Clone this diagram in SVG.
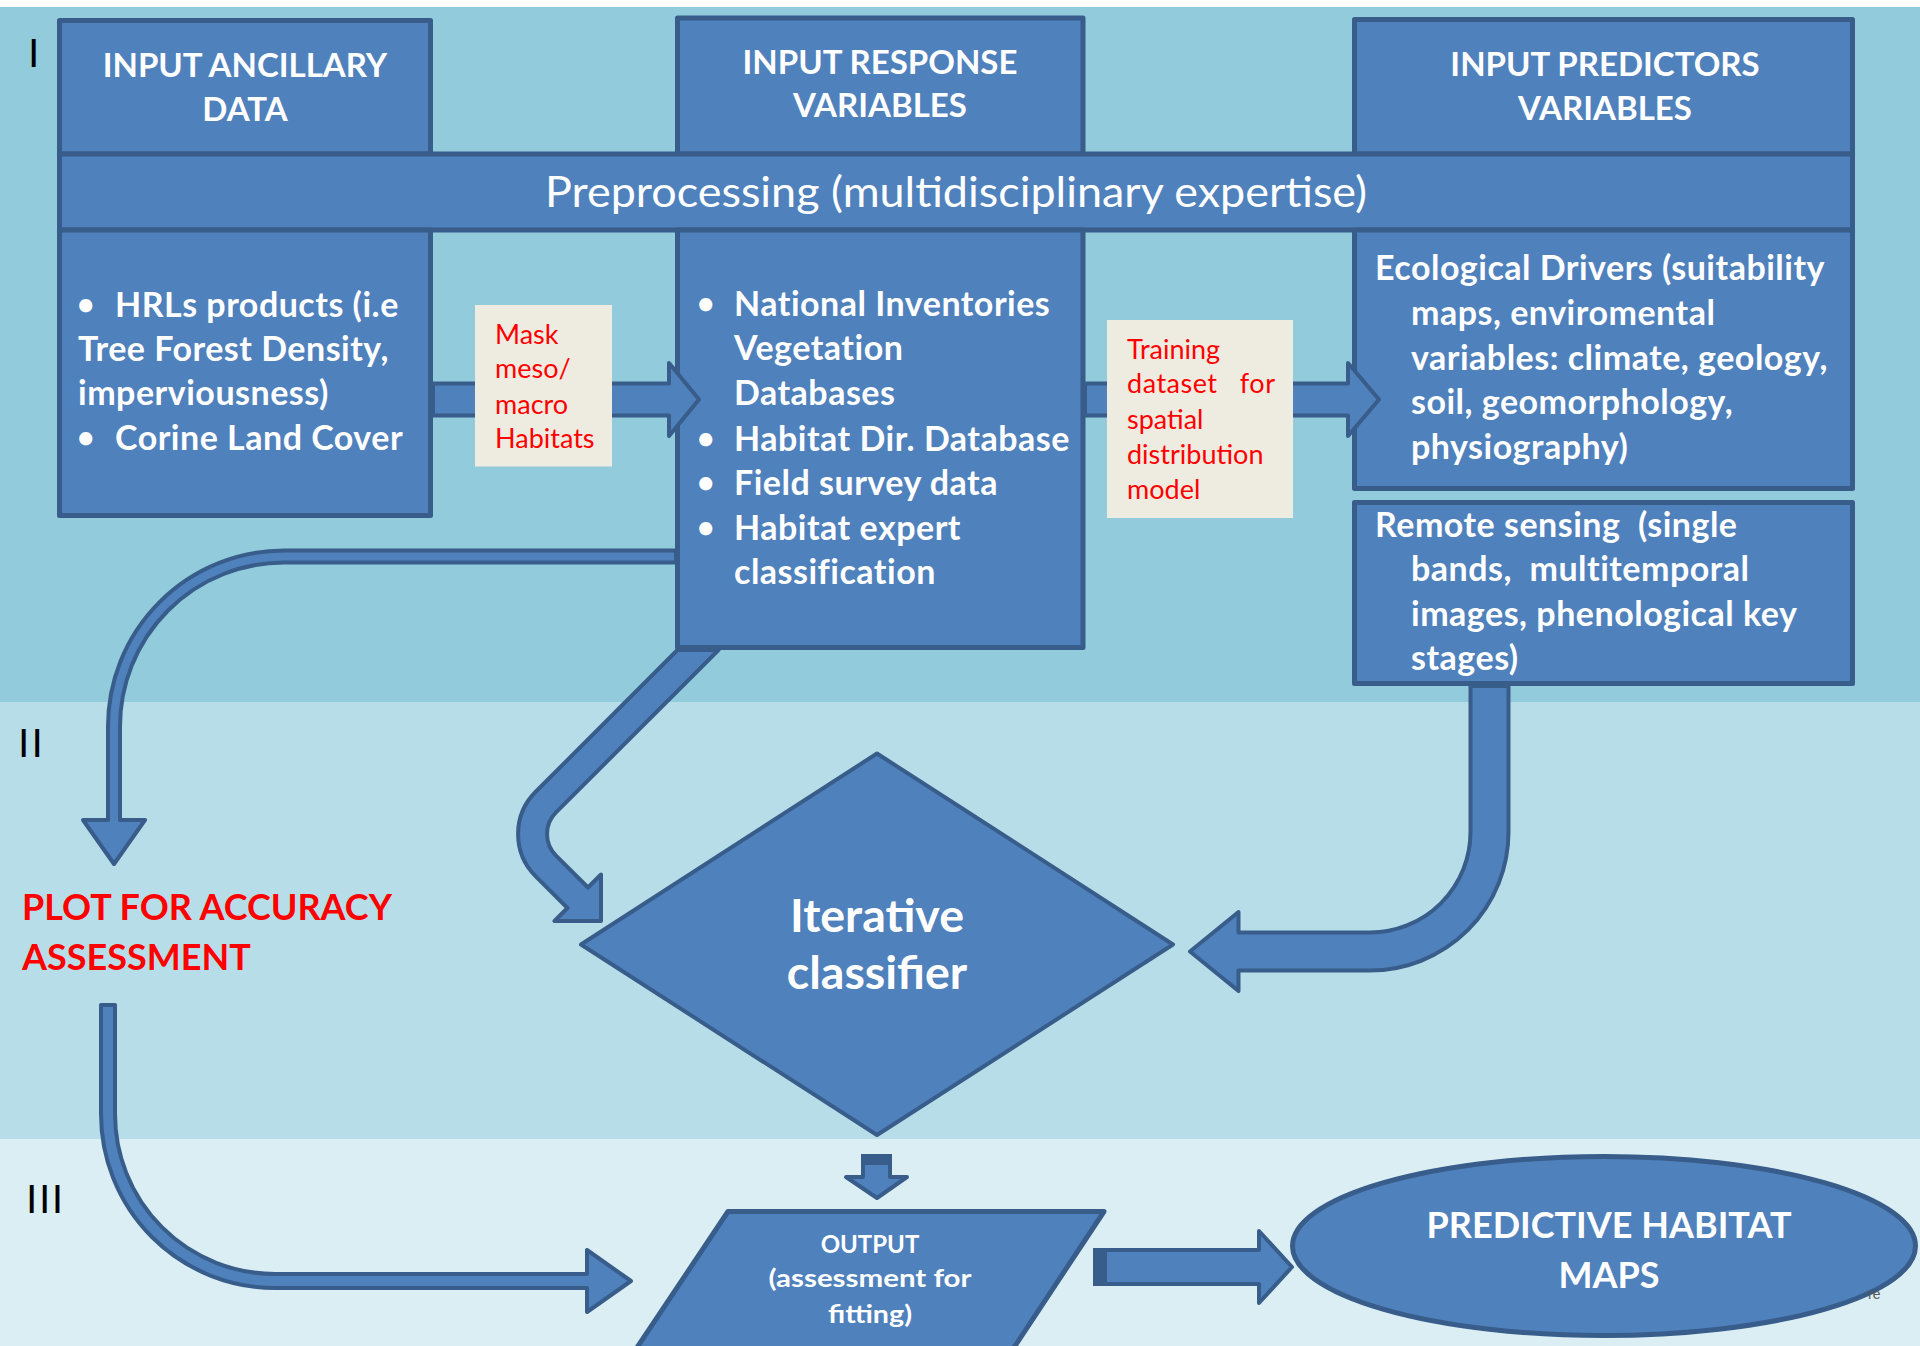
<svg xmlns="http://www.w3.org/2000/svg" width="1920" height="1346" viewBox="0 0 1920 1346">
<style>
.box{fill:#4F81BD;stroke:#385D8A;stroke-width:5;stroke-linejoin:round}
.arr{fill:#4F81BD;stroke:#385D8A;stroke-width:4;stroke-linejoin:round}
.dk{fill:#385D8A}
.lab{fill:#EEECE1}
.t{font-family:Lato,"Open Sans",sans-serif;fill:#FFFFFF;font-weight:700}
.hdr{font-size:33px;text-anchor:middle}
.body{font-size:34px;letter-spacing:0.5px;white-space:pre}
.bul{font-size:30px}
.pre{font-size:42px;font-weight:400;text-anchor:middle}
.red{font-family:Lato,"Open Sans",sans-serif;font-size:27px;fill:#FF0000;white-space:pre}
.plot{font-family:Lato,"Open Sans",sans-serif;font-size:36px;font-weight:700;fill:#FF0000}
.big{font-size:46.5px;text-anchor:middle}
.out{font-size:24px;text-anchor:middle}
.pred{font-size:36px;text-anchor:middle}
.rom{font-family:"Liberation Sans",Arial,sans-serif;font-size:41px;fill:#000000}
</style>
<g id="background">
<rect x="0" y="0" width="1920" height="1346" fill="#FFFFFF"/>
<rect x="0" y="7" width="1920" height="695" fill="#92CBDC"/>
<rect x="0" y="702" width="1920" height="437" fill="#B7DEE8"/>
<rect x="0" y="1139" width="1920" height="207" fill="#DAEEF3"/>
<text class="rom" x="28" y="67">I</text>
<text class="rom" x="18" y="757" letter-spacing="2">II</text>
<text class="rom" x="26" y="1213" letter-spacing="1.5">III</text>
</g>
<g id="nodes">
<g id="ancillary-header">
<rect class="box" x="59.5" y="20.5" width="371" height="133.5"/>
<text class="t hdr" x="245" y="77">INPUT ANCILLARY</text>
<text class="t hdr" x="245" y="120.5">DATA</text>
</g>
<g id="response-header">
<rect class="box" x="677.5" y="18" width="405.5" height="136"/>
<text class="t hdr" x="880" y="74">INPUT RESPONSE</text>
<text class="t hdr" x="880" y="117">VARIABLES</text>
</g>
<g id="predictors-header">
<rect class="box" x="1354.5" y="19.5" width="498" height="134.5"/>
<text class="t hdr" x="1605" y="76">INPUT PREDICTORS</text>
<text class="t hdr" x="1605" y="119.5">VARIABLES</text>
</g>
<g id="preprocessing">
<rect class="box" x="59.5" y="154" width="1793" height="76"/>
<text class="t pre" x="956" y="207" textLength="822" lengthAdjust="spacingAndGlyphs">Preprocessing (multidisciplinary expertise)</text>
</g>
<g id="ancillary-data">
<rect class="box" x="59.5" y="230" width="371" height="285.5"/>
<text class="t bul" x="77" y="315">•</text>
<text class="t body" x="115" y="317">HRLs products (i.e</text>
<text class="t body" x="78" y="361">Tree Forest Density,</text>
<text class="t body" x="78" y="405">imperviousness)</text>
<text class="t bul" x="77" y="448">•</text>
<text class="t body" x="115" y="450">Corine Land Cover</text>
</g>
<g id="response-data">
<rect class="box" x="677.5" y="230" width="405.5" height="417.5"/>
<text class="t bul" x="697" y="314">•</text>
<text class="t body" x="734" y="316">National Inventories</text>
<text class="t body" x="734" y="360">Vegetation</text>
<text class="t body" x="734" y="405">Databases</text>
<text class="t bul" x="697" y="449">•</text>
<text class="t body" x="734" y="451">Habitat Dir. Database</text>
<text class="t bul" x="697" y="493">•</text>
<text class="t body" x="734" y="495">Field survey data</text>
<text class="t bul" x="697" y="538">•</text>
<text class="t body" x="734" y="540">Habitat expert</text>
<text class="t body" x="734" y="584">classification</text>
</g>
<g id="ecological-drivers">
<rect class="box" x="1354.5" y="230" width="498" height="258.5"/>
<text class="t body" x="1375" y="280">Ecological Drivers (suitability</text>
<text class="t body" x="1411" y="325">maps, enviromental</text>
<text class="t body" x="1411" y="370">variables: climate, geology,</text>
<text class="t body" x="1411" y="414">soil, geomorphology,</text>
<text class="t body" x="1411" y="459">physiography)</text>
</g>
<g id="remote-sensing">
<rect class="box" x="1354.5" y="502.5" width="498" height="181"/>
<text class="t body" x="1375" y="537">Remote sensing  (single</text>
<text class="t body" x="1411" y="581">bands,  multitemporal</text>
<text class="t body" x="1411" y="626">images, phenological key</text>
<text class="t body" x="1411" y="670">stages)</text>
</g>
<g id="plot-accuracy">
<text class="plot" x="22" y="920">PLOT FOR ACCURACY</text>
<text class="plot" x="22" y="970">ASSESSMENT</text>
</g>
<g id="iterative-classifier">
<polygon class="arr" points="877,753.5 1173,944.5 877,1135 581,944.5"/>
<text class="t big" x="877" y="932">Iterative</text>
<text class="t big" x="877" y="989">classifier</text>
</g>
<g id="output">
<polygon class="box" points="728,1211.5 1104,1211.5 1011,1352 634,1352"/>
<text class="t out" x="870" y="1253">OUTPUT</text>
<text class="t out" x="870" y="1287" textLength="203" lengthAdjust="spacingAndGlyphs">(assessment for</text>
<text class="t out" x="870" y="1323" textLength="84" lengthAdjust="spacingAndGlyphs">fitting)</text>
</g>
<g id="predictive-maps">
<ellipse class="box" cx="1604" cy="1246" rx="311.5" ry="89.5"/>
<text class="t pred" x="1609" y="1238">PREDICTIVE HABITAT</text>
<text class="t pred" x="1609" y="1288">MAPS</text>
<text x="1868" y="1299" font-family="Liberation Sans,Arial,sans-serif" font-size="14" fill="#595959">re</text>
</g>
</g>
<g id="connectors">
<path id="mask-arrow" class="arr" d="M433 383.5 L669 383.5 L669 363 L699 399.5 L669 436 L669 415.5 L433 415.5 Z"/>
<path id="training-arrow" class="arr" d="M1085 383.5 L1348 383.5 L1348 363 L1379 399.5 L1348 436 L1348 415.5 L1085 415.5 Z"/>
<path id="response-to-plot" class="arr" d="M676 550.5 L284 550.5 A176 176 0 0 0 108 726.5 L108 820 L83 820 L114 864 L145 820 L120 820 L120 726.5 A164 164 0 0 1 284 562.5 L676 562.5 Z"/>
<path id="response-to-classifier" class="arr" d="M677.5 650 L535.5 792 A59.5 59.5 0 0 0 535.5 876.1 L567.5 908 L554.5 921 L601 921 L601 874.5 L588 887.5 L556 855.6 A30.5 30.5 0 0 1 556 812.4 L718.5 650 Z"/>
<path id="remote-to-classifier" class="arr" d="M1470.5 686 L1470.5 832 A100.5 100.5 0 0 1 1370 932.5 L1238.5 932.5 L1238.5 912 L1190 951.5 L1238.5 991 L1238.5 970.5 L1370 970.5 A138.5 138.5 0 0 0 1508.5 832 L1508.5 686 Z"/>
<path id="plot-to-output" class="arr" d="M101 1005 L101 1114 A174 174 0 0 0 275 1288 L587 1288 L587 1312 L631 1281 L587 1250 L587 1274 L275 1274 A160 160 0 0 1 115 1114 L115 1005 Z"/>
<g id="classifier-to-output">
<path class="arr" d="M863 1156 L890 1156 L890 1177 L907 1177 L877 1198 L846 1177 L863 1177 Z"/>
<rect class="dk" x="861" y="1154" width="31" height="11"/>
</g>
<g id="output-to-maps">
<path class="arr" d="M1095 1250 L1259 1250 L1259 1231 L1292 1267 L1259 1303 L1259 1284 L1095 1284 Z"/>
<rect class="dk" x="1093" y="1248" width="14" height="38"/>
</g>
</g>
<g id="connector-labels">
<g id="mask-label">
<rect class="lab" x="475" y="305" width="137" height="161.5"/>
<text class="red" x="495" y="344">Mask</text>
<text class="red" x="495" y="378">meso/</text>
<text class="red" x="495" y="414">macro</text>
<text class="red" x="495" y="448">Habitats</text>
</g>
<g id="training-label">
<rect class="lab" x="1107" y="320" width="186" height="198"/>
<text class="red" x="1127" y="359">Training</text>
<text class="red" x="1127" y="393" textLength="148" lengthAdjust="spacing">dataset   for</text>
<text class="red" x="1127" y="429">spatial</text>
<text class="red" x="1127" y="464">distribution</text>
<text class="red" x="1127" y="499">model</text>
</g>
</g>
</svg>
